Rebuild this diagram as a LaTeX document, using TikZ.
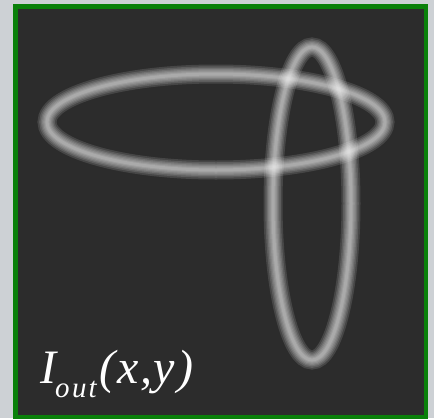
\documentclass[tikz,border=0pt]{standalone}
\usepackage{fontspec}
\setmainfont{Liberation Serif}
\definecolor{pagegray}{HTML}{CDD1D5}
\definecolor{frame}{HTML}{0A800A}
\definecolor{panel}{HTML}{2C2C2C}
\tikzset{
  glow/.style={draw=white, draw opacity=0.125, fill=none},
}
\newcommand{\glowellipse}[4]{%
  \foreach \w in {19,15.5,12.5,10,7.5,5,3}{%
    \draw[glow, line width=\w pt] (#1,#2) ellipse [x radius=#3, y radius=#4];
  }%
}
\begin{document}
\begin{tikzpicture}[x=1pt,y=-1pt]
  \useasboundingbox (0,0) rectangle (434,418);
  \fill[pagegray] (0,0) rectangle (434,418);
  \fill[frame] (12.7,4) rectangle (428.3,421);
  \fill[panel] (17.7,9) rectangle (424,415);
  \begin{scope}
    \clip (17.7,9) rectangle (424,415);
    \glowellipse{216}{122}{169}{48}
    \glowellipse{312}{203.5}{39}{156.5}
  \end{scope}
  \node[anchor=base west, inner sep=0pt, text=white, font=\fontsize{48}{50}\selectfont\itshape]
    (label) at (40,383) {I\kern-1pt\raisebox{-14pt}{\fontsize{29}{30}\selectfont o\kern2.5pt u\kern2pt t}\kern3pt(\kern2pt x\kern1.5pt,\kern1pt y\kern3pt)};
\end{tikzpicture}
\end{document}
